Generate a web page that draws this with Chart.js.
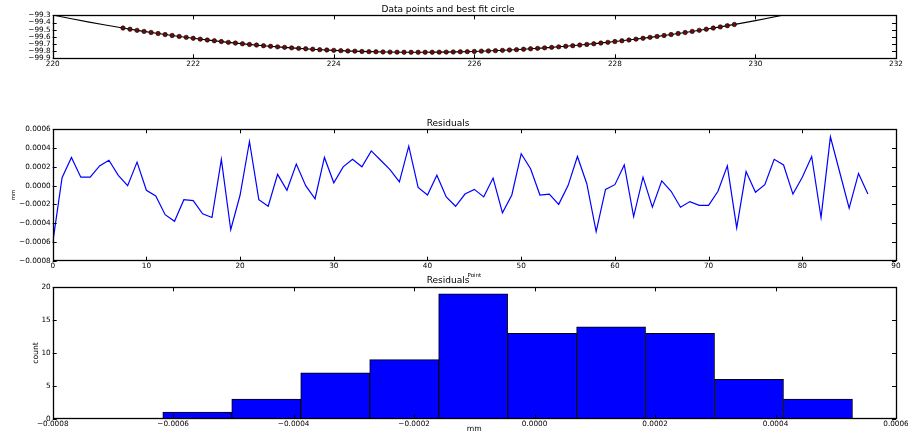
<!DOCTYPE html>
<html>
<head>
<meta charset="utf-8">
<script src="https://cdn.jsdelivr.net/npm/chart.js@4/dist/chart.umd.min.js"></script>
<style>
  html, body { margin: 0; padding: 0; background: #fff; }
  #wrap { position: relative; width: 908px; height: 434px; overflow: hidden; }
  .panel { position: absolute; left: 0; width: 908px; }
  .panel canvas { display: block; }
</style>
</head>
<body>
<div id="wrap">
  <div class="panel" style="top:0px;height:75px"><canvas id="fitChart" width="908" height="75"></canvas></div>
  <div class="panel" style="top:112px;height:168px"><canvas id="residChart" width="908" height="168"></canvas></div>
  <div class="panel" style="top:272px;height:162px"><canvas id="histChart" width="908" height="162"></canvas></div>
</div>
<script>
// measured profile points (x in mm, y in mm)
const pointX = [
  221.0, 221.1, 221.2, 221.3, 221.4, 221.5, 221.6, 221.7, 221.8, 221.9,
  222.0, 222.1, 222.2, 222.3, 222.4, 222.5, 222.6, 222.7, 222.8, 222.9,
  223.0, 223.1, 223.2, 223.3, 223.4, 223.5, 223.6, 223.7, 223.8, 223.9,
  224.0, 224.1, 224.2, 224.3, 224.4, 224.5, 224.6, 224.7, 224.8, 224.9,
  225.0, 225.1, 225.2, 225.3, 225.4, 225.5, 225.6, 225.7, 225.8, 225.9,
  226.0, 226.1, 226.2, 226.3, 226.4, 226.5, 226.6, 226.7, 226.8, 226.9,
  227.0, 227.1, 227.2, 227.3, 227.4, 227.5, 227.6, 227.7, 227.8, 227.9,
  228.0, 228.1, 228.2, 228.3, 228.4, 228.5, 228.6, 228.7, 228.8, 228.9,
  229.0, 229.1, 229.2, 229.3, 229.4, 229.5, 229.6, 229.7
];
const pointY = [
  -99.477, -99.493, -99.509, -99.524, -99.539, -99.553, -99.568, -99.581, -99.594, -99.607,
  -99.620, -99.632, -99.644, -99.655, -99.666, -99.677, -99.687, -99.697, -99.706, -99.715,
  -99.724, -99.732, -99.740, -99.747, -99.754, -99.761, -99.767, -99.773, -99.779, -99.784,
  -99.789, -99.793, -99.797, -99.800, -99.804, -99.807, -99.809, -99.811, -99.813, -99.814,
  -99.815, -99.816, -99.816, -99.816, -99.815, -99.814, -99.813, -99.811, -99.809, -99.807,
  -99.804, -99.800, -99.797, -99.793, -99.789, -99.784, -99.779, -99.773, -99.767, -99.761,
  -99.754, -99.747, -99.740, -99.732, -99.724, -99.715, -99.706, -99.697, -99.687, -99.677,
  -99.666, -99.655, -99.644, -99.632, -99.620, -99.607, -99.594, -99.581, -99.568, -99.553,
  -99.539, -99.524, -99.509, -99.493, -99.477, -99.461, -99.444, -99.427
];

// fitted circle, sampled along x
const circleX = [220.0, 220.5, 221.0, 221.5, 222.0, 222.5, 223.0, 223.5, 224.0, 224.5, 225.0, 225.5,
                 226.0, 226.5, 227.0, 227.5, 228.0, 228.5, 229.0, 229.5, 230.0, 230.5, 231.0];
const circleY = [-99.295, -99.391, -99.477, -99.553, -99.620, -99.677, -99.724, -99.761, -99.789, -99.807,
                 -99.815, -99.814, -99.804, -99.784, -99.754, -99.715, -99.666, -99.607, -99.539, -99.461,
                 -99.373, -99.274, -99.166];

// residual per point (mm)
const residuals = [
  -0.00061, 0.000085, 0.00030, 0.00009, 0.00009, 0.00021, 0.00027, 0.00011, 0.00000, 0.00025,
  -0.00005, -0.00011, -0.00031, -0.00038, -0.00015, -0.00016, -0.00030, -0.00034, 0.00028, -0.00047,
  -0.00010, 0.00047, -0.00015, -0.00022, 0.00012, -0.00005, 0.00023, 0.00000, -0.00014, 0.00030,
  0.00003, 0.00020, 0.00028, 0.00020, 0.00037, 0.00027, 0.00017, 0.00004, 0.00042, -0.00002,
  -0.00010, 0.00011, -0.00012, -0.00022, -0.00009, -0.00004, -0.00012, 0.00008, -0.00029, -0.00010,
  0.00034, 0.00018, -0.00010, -0.00009, -0.00020, 0.00000, 0.00031, 0.00002, -0.00049, -0.00004,
  0.00001, 0.00022, -0.00033, 0.00009, -0.00023, 0.00005, -0.00006, -0.00023, -0.00017, -0.00021,
  -0.00021, -0.00006, 0.00021, -0.00045, 0.00015, -0.00007, 0.00001, 0.00028, 0.00022, -0.00009,
  0.00009, 0.00031, -0.00034, 0.00052, 0.00014, -0.00024, 0.00013, -0.00009
];

// histogram of the residuals
const binEdges = [-0.000617, -0.000503, -0.000388, -0.000274, -0.000159, -0.000045,
                  0.000070, 0.000184, 0.000299, 0.000413, 0.000528];
const binCounts = [1, 3, 7, 9, 19, 13, 14, 13, 6, 3];

const FONT = 'DejaVu Sans';
const MINUS = '\u2212';

function fmt(decimals) {
  return v => (v < 0 ? MINUS : '') + Math.abs(v).toFixed(decimals);
}

// pin axis box sizes so every panel shares the same plot left/right edges
function fixBox(size) {
  return scale => {
    if (scale.isHorizontal()) scale.height = size;
    else scale.width = size;
    scale.paddingLeft = scale.paddingRight = scale.paddingTop = scale.paddingBottom = 0;
  };
}

// black frame with small inward ticks on all four sides
const framePlugin = {
  id: 'frame',
  afterDatasetsDraw(chart) {
    const { ctx, chartArea: a, scales: { x, y } } = chart;
    ctx.save();
    ctx.strokeStyle = '#000';
    ctx.lineWidth = 1;
    ctx.beginPath();
    x.ticks.forEach(t => {
      const px = Math.round(x.getPixelForValue(t.value)) + 0.5;
      ctx.moveTo(px, a.bottom); ctx.lineTo(px, a.bottom - 4);
      ctx.moveTo(px, a.top); ctx.lineTo(px, a.top + 4);
    });
    y.ticks.forEach(t => {
      const py = Math.round(y.getPixelForValue(t.value)) + 0.5;
      ctx.moveTo(a.left, py); ctx.lineTo(a.left + 4, py);
      ctx.moveTo(a.right, py); ctx.lineTo(a.right - 4, py);
    });
    ctx.stroke();
    ctx.lineWidth = 1.3;
    ctx.strokeRect(Math.round(a.left) + 0.5, Math.round(a.top) + 0.5,
                   Math.round(a.width), Math.round(a.height));
    ctx.restore();
  }
};

function axis(opts) {
  return Object.assign({
    type: 'linear',
    grid: { display: false, drawTicks: false, tickLength: 0 },
    border: { display: false },
  }, opts);
}

function tickFont() {
  return { family: FONT, size: 7.3 };
}

function titleOpts(text, padTop, padBottom) {
  return {
    display: true,
    text: text,
    color: '#000',
    font: { family: FONT, size: 9, weight: 'normal' },
    padding: { top: padTop, bottom: padBottom }
  };
}

Chart.defaults.color = '#000';

// --- data points and fitted circle ---
new Chart(document.getElementById('fitChart'), {
  type: 'scatter',
  data: {
    datasets: [
      {
        data: pointX.map((x, i) => ({ x: x, y: pointY[i] })),
        pointRadius: 2.2,
        pointBackgroundColor: '#6b0c0c',
        pointBorderColor: '#000',
        pointBorderWidth: 0.6,
        showLine: false
      },
      {
        data: circleX.map((x, i) => ({ x: x, y: circleY[i] })),
        showLine: true,
        borderColor: '#000',
        borderWidth: 1.1,
        pointRadius: 0,
        tension: 0.3
      }
    ]
  },
  plugins: [framePlugin],
  options: {
    responsive: false,
    animation: false,
    devicePixelRatio: 1,
    layout: { padding: { top: 4.6, left: 0, right: 12, bottom: 0 } },
    plugins: {
      legend: { display: false },
      tooltip: { enabled: false },
      title: titleOpts('Data points and best fit circle', 0, 0)
    },
    scales: {
      x: axis({
        min: 220, max: 232,
        ticks: { stepSize: 2, padding: 1, maxRotation: 0, autoSkip: false, font: tickFont(), callback: fmt(0) },
        afterFit: fixBox(16.7)
      }),
      y: axis({
        min: -99.9, max: -99.3,
        ticks: { stepSize: 0.1, padding: 2, autoSkip: false, font: tickFont(), callback: fmt(1) },
        afterFit: fixBox(52.7)
      })
    }
  }
});

// --- residuals per point ---
new Chart(document.getElementById('residChart'), {
  type: 'line',
  data: {
    datasets: [{
      data: residuals.map((r, i) => ({ x: i, y: r })),
      borderColor: '#0000ff',
      borderWidth: 1.2,
      pointRadius: 0,
      tension: 0
    }]
  },
  plugins: [framePlugin],
  options: {
    responsive: false,
    animation: false,
    devicePixelRatio: 1,
    layout: { padding: { top: 5.9, left: 0, right: 12, bottom: 0 } },
    plugins: {
      legend: { display: false },
      tooltip: { enabled: false },
      title: titleOpts('Residuals', 0, 0.6)
    },
    scales: {
      x: axis({
        min: 0, max: 90,
        ticks: { stepSize: 10, padding: 1, maxRotation: 0, autoSkip: false, font: tickFont(), callback: fmt(0) },
        title: { display: true, text: 'Point', font: { family: FONT, size: 5.5 }, padding: { top: 0, bottom: 1 } },
        afterFit: fixBox(19.3)
      }),
      y: axis({
        min: -0.0008, max: 0.0006,
        ticks: { stepSize: 0.0002, padding: 2, autoSkip: false, font: tickFont(), callback: fmt(4) },
        title: { display: true, text: 'mm', font: { family: FONT, size: 5.5 }, padding: { top: 10, bottom: 0 } },
        afterFit: fixBox(52.7)
      })
    }
  }
});

// --- histogram of residuals ---
new Chart(document.getElementById('histChart'), {
  type: 'bar',
  data: {
    datasets: [{
      data: binCounts.map((c, i) => ({ x: (binEdges[i] + binEdges[i + 1]) / 2, y: c })),
      backgroundColor: '#0000ff',
      borderColor: '#000',
      borderWidth: 1,
      borderSkipped: false,
      barPercentage: 1,
      categoryPercentage: 1
    }]
  },
  plugins: [framePlugin],
  options: {
    responsive: false,
    animation: false,
    devicePixelRatio: 1,
    layout: { padding: { top: 3.6, left: 0, right: 12, bottom: 0 } },
    plugins: {
      legend: { display: false },
      tooltip: { enabled: false },
      title: titleOpts('Residuals', 0, 0.9)
    },
    scales: {
      x: axis({
        min: -0.0008, max: 0.0006,
        offset: false,
        ticks: { stepSize: 0.0002, padding: 1, maxRotation: 0, autoSkip: false, font: tickFont(), callback: fmt(4) },
        title: { display: true, text: 'mm', font: { family: FONT, size: 7.7 }, padding: { top: 0, bottom: 0 } },
        afterFit: fixBox(15.3)
      }),
      y: axis({
        min: 0, max: 20,
        ticks: { stepSize: 5, padding: 2, autoSkip: false, font: tickFont(), callback: fmt(0) },
        title: { display: true, text: 'count', font: { family: FONT, size: 7.7 }, padding: { top: 31.4, bottom: 0 } },
        afterFit: fixBox(52.7)
      })
    }
  }
});
</script>
</body>
</html>
